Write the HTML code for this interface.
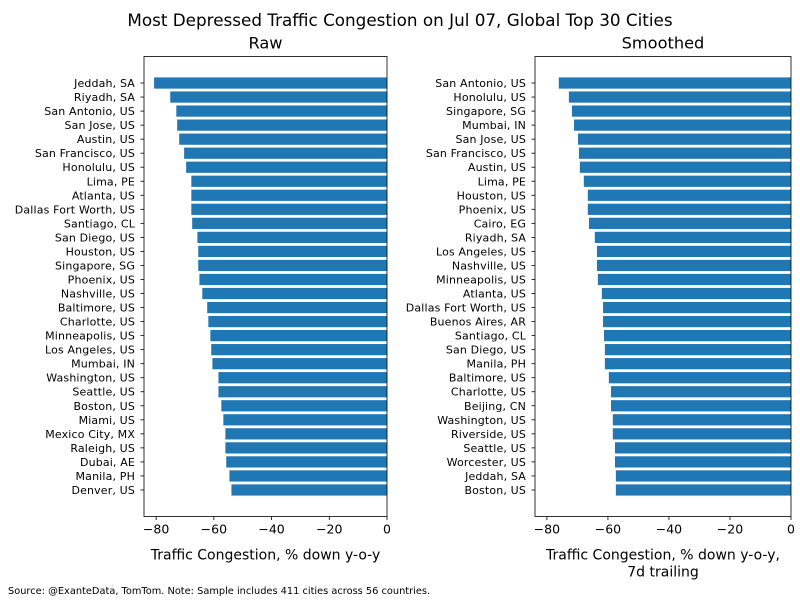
<!DOCTYPE html>
<html><head><meta charset="utf-8"><style>
body{margin:0;background:#fff;}
svg text{font-family:"DejaVu Sans","Liberation Sans",sans-serif;fill:#000;}
</style></head><body>
<svg id="chart" width="800" height="600" xmlns="http://www.w3.org/2000/svg">
<text x="400" y="26" font-size="16.8" text-anchor="middle">Most Depressed Traffic Congestion on Jul 07, Global Top 30 Cities</text>
<text x="8" y="594" font-size="9.8">Source: @ExanteData, TomTom.   Note: Sample includes 411 cities across 56 countries.</text>
</svg>
<script>
const rawCities=["Jeddah, SA","Riyadh, SA","San Antonio, US","San Jose, US","Austin, US","San Francisco, US","Honolulu, US","Lima, PE","Atlanta, US","Dallas Fort Worth, US","Santiago, CL","San Diego, US","Houston, US","Singapore, SG","Phoenix, US","Nashville, US","Baltimore, US","Charlotte, US","Minneapolis, US","Los Angeles, US","Mumbai, IN","Washington, US","Seattle, US","Boston, US","Miami, US","Mexico City, MX","Raleigh, US","Dubai, AE","Manila, PH","Denver, US"];
const rawValues=[-80.7,-75.1,-73,-72.7,-72,-70.3,-69.6,-67.8,-67.8,-67.8,-67.5,-65.7,-65.4,-65.4,-65,-64,-62.3,-61.9,-61.2,-60.9,-60.5,-58.4,-58.4,-57.4,-56.7,-56,-56,-55.7,-54.6,-53.9];
const smCities=["San Antonio, US","Honolulu, US","Singapore, SG","Mumbai, IN","San Jose, US","San Francisco, US","Austin, US","Lima, PE","Houston, US","Phoenix, US","Cairo, EG","Riyadh, SA","Los Angeles, US","Nashville, US","Minneapolis, US","Atlanta, US","Dallas Fort Worth, US","Buenos Aires, AR","Santiago, CL","San Diego, US","Manila, PH","Baltimore, US","Charlotte, US","Beijing, CN","Washington, US","Riverside, US","Seattle, US","Worcester, US","Jeddah, SA","Boston, US"];
const smValues=[-76.1,-72.8,-71.8,-71.1,-69.8,-69.5,-69.2,-67.9,-66.6,-66.6,-66.2,-64.3,-63.6,-63.6,-63.3,-62,-61.6,-61.6,-61.3,-61,-61,-59.7,-59,-59,-58.4,-58.4,-57.7,-57.7,-57.4,-57.4];
const xTicks=[-80,-60,-40,-20,0];
const xTickLabels=["\u221280","\u221260","\u221240","\u221220","0"];
const NS="http://www.w3.org/2000/svg";
const svg=document.getElementById('chart');
function mk(tag,attrs,parent){const e=document.createElementNS(NS,tag);for(const k in attrs)e.setAttribute(k,attrs[k]);(parent||svg).appendChild(e);return e;}
function panel(prefix,cities,values,L,R,xmin,title,xlabel){
  const T=56.5,B=516.5;
  const g=mk('g',{});
  
  
  const n=cities.length;
  const ymin=-0.4-0.05*(n-0.2), ymax=n-1+0.4+0.05*(n-0.2);
  const xs=v=>L+(v-xmin)/(0-xmin)*(R-L);
  const ys=i=>T+(i-ymin)/(ymax-ymin)*(B-T);
  cities.forEach((c,i)=>{
    const x0=xs(values[i]),x1=xs(0),yc=ys(i),h=0.8*(ys(1)-ys(0));
    const r=mk('rect',{x:x0,y:yc-h/2,width:x1-x0,height:h,fill:'#1f77b4'},g);
    
    
    mk('line',{x1:L,x2:L-3.5,y1:yc,y2:yc,stroke:'#000','stroke-width':0.8},g);
    const t=mk('text',{x:L-9,y:yc+4,'font-size':11,'letter-spacing':0.15,'text-anchor':'end'},g);
    t.textContent=c;
    
    
  });
  xTicks.forEach((v,i)=>{
    const x=xs(v);
    mk('line',{x1:x,x2:x,y1:B,y2:B+3.5,stroke:'#000','stroke-width':0.8},g);
    const t=mk('text',{x:x,y:B+17,'font-size':12.5,'text-anchor':'middle'},g);
    t.textContent=xTickLabels[i];
    
    
  });
  mk('rect',{x:L,y:T,width:R-L,height:B-T,fill:'none',stroke:'#000','stroke-width':0.8},g);
  const tt=mk('text',{x:(L+R)/2,y:T-8,'font-size':16.2,'text-anchor':'middle'},g);
  tt.textContent=title;
  
  
  xlabel.forEach((s,k)=>{
    const t=mk('text',{x:(L+R)/2,y:B+43+k*17,'font-size':14,'text-anchor':'middle'},g);
    t.textContent=s;
    
    
  });
}
panel('raw',rawCities,rawValues,144,387,-84.2,'Raw',['Traffic Congestion, % down y-o-y']);
panel('smoothed',smCities,smValues,535,791,-83.9,'Smoothed',['Traffic Congestion, % down y-o-y,','7d trailing']);
</script>
</body></html>
